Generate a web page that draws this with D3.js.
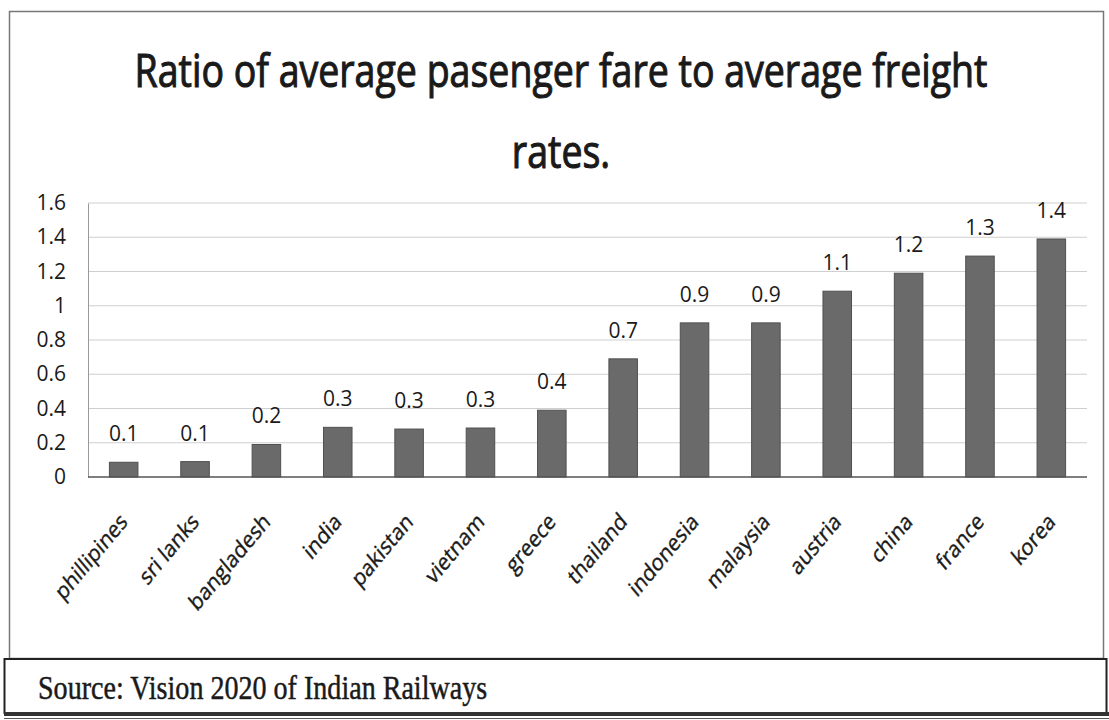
<!DOCTYPE html>
<html>
<head>
<meta charset="utf-8">
<script src="https://cdn.jsdelivr.net/npm/d3@7"></script>
<style>
  body { margin: 0; background: #fff; }
  text { font-family: "Open Sans", Lato, sans-serif; fill: #1a1a1a; }
</style>
</head>
<body>
<script>
// values (labels in the picture are rounded to 1 decimal)
const countries = ["phillipines", "sri lanks", "bangladesh", "india", "pakistan", "vietnam",
  "greece", "thailand", "indonesia", "malaysia", "austria", "china", "france", "korea"];
const ratios = [0.086, 0.09, 0.19, 0.29, 0.28, 0.286, 0.39, 0.69, 0.9, 0.9, 1.085, 1.19, 1.29, 1.39];
const yTicks = [0, 0.2, 0.4, 0.6, 0.8, 1, 1.2, 1.4, 1.6];
const titleLines = ["Ratio of average pasenger fare to average freight", "rates."];
const sourceText = "Source: Vision 2020 of Indian Railways";

const data = countries.map((c, i) => ({ country: c, value: ratios[i] }));

const W = 1109, H = 720;
const stretch = 1.2; // the scan is a bit taller than wide

const svg = d3.select("body").append("svg")
  .attr("width", W)
  .attr("height", H);

svg.append("rect").attr("width", W).attr("height", H).attr("fill", "#fff");

// outer chart frame
svg.append("rect")
  .attr("x", 9.5).attr("y", 11.5)
  .attr("width", 1094).attr("height", 647)
  .attr("fill", "none")
  .attr("stroke", "#777")
  .attr("stroke-width", 1.5);

// shrink/grow a text so it spans a given width
function fitText(sel, width) {
  const w = sel.node().getComputedTextLength();
  const size = parseFloat(sel.attr("font-size"));
  sel.attr("font-size", (size * width) / w);
}

// title (a thin stroke makes it as heavy as the scanned one)
const t1 = svg.append("text")
  .attr("transform", "translate(561,87) scale(1," + stretch + ")")
  .attr("text-anchor", "middle")
  .attr("font-size", 40)
  .attr("stroke", "#1a1a1a")
  .attr("stroke-width", 0.9)
  .text(titleLines[0]);
fitText(t1, 853);
svg.append("text")
  .attr("transform", "translate(561,168) scale(1," + stretch + ")")
  .attr("text-anchor", "middle")
  .attr("font-size", t1.attr("font-size"))
  .attr("stroke", "#1a1a1a")
  .attr("stroke-width", 0.9)
  .text(titleLines[1]);

const margin = { left: 88, right: 1087, top: 203, bottom: 477 };

const x = d3.scaleBand()
  .domain(countries)
  .range([margin.left, margin.right])
  .paddingInner(0.6)
  .paddingOuter(0.3);

const y = d3.scaleLinear()
  .domain([0, 1.6])
  .range([margin.bottom, margin.top]);

// gridlines
svg.append("g")
  .selectAll("line")
  .data(yTicks.filter((d) => d > 0))
  .join("line")
  .attr("x1", margin.left)
  .attr("x2", margin.right)
  .attr("y1", (d) => y(d))
  .attr("y2", (d) => y(d))
  .attr("stroke", "#cfcfcf")
  .attr("stroke-width", 1.2);

// y axis
const yAxis = svg.append("g")
  .attr("transform", "translate(" + margin.left + ",0)")
  .call(d3.axisLeft(y).tickValues(yTicks).tickSize(0).tickPadding(22).tickFormat(d3.format("~g")));
yAxis.select(".domain").attr("stroke", "#999");
yAxis.selectAll("text")
  .attr("font-size", 21)
  .attr("font-family", "'Open Sans', sans-serif")
  .attr("fill", "#1a1a1a");

// bars
svg.append("g")
  .selectAll("rect")
  .data(data)
  .join("rect")
  .attr("x", (d) => x(d.country))
  .attr("y", (d) => y(d.value))
  .attr("width", x.bandwidth())
  .attr("height", (d) => y(0) - y(d.value))
  .attr("fill", "#6a6a6a")
  .attr("stroke", "#505050")
  .attr("stroke-width", 1);

// baseline
svg.append("line")
  .attr("x1", margin.left).attr("x2", margin.right)
  .attr("y1", y(0)).attr("y2", y(0))
  .attr("stroke", "#555")
  .attr("stroke-width", 1.5);

// value labels
svg.append("g")
  .selectAll("text")
  .data(data)
  .join("text")
  .attr("x", (d) => x(d.country) + x.bandwidth() / 2)
  .attr("y", (d) => y(d.value) - 21)
  .attr("text-anchor", "middle")
  .attr("font-size", 21)
  .text((d) => d3.format(".1f")(d.value));

// category labels, rotated
svg.append("g")
  .selectAll("text")
  .data(countries)
  .join("text")
  .attr("transform", (d) =>
    "translate(" + (x(d) + x.bandwidth() / 2 + 5) + "," + (y(0) + 46) + ") scale(1," + stretch + ") rotate(-45)")
  .attr("text-anchor", "end")
  .attr("font-size", 19.5)
  .attr("stroke", "#1a1a1a")
  .attr("stroke-width", 0.35)
  .text((d) => d);

// source box
svg.append("rect")
  .attr("x", 4.5).attr("y", 659)
  .attr("width", 1102).attr("height", 54)
  .attr("fill", "#fff")
  .attr("stroke", "#222")
  .attr("stroke-width", 2);
svg.append("rect")
  .attr("x", 4).attr("y", 712)
  .attr("width", 1105).attr("height", 4)
  .attr("fill", "#333");
svg.append("line")
  .attr("x1", 4).attr("x2", W)
  .attr("y1", 718.5).attr("y2", 718.5)
  .attr("stroke", "#555");

const src = svg.append("text")
  .attr("transform", "translate(38,699) scale(1," + stretch + ")")
  .attr("font-size", 24)
  .attr("stroke", "#1a1a1a")
  .attr("stroke-width", 0.4)
  .style("font-family", "'Liberation Serif', serif")
  .text(sourceText);
fitText(src, 449);
</script>
</body>
</html>
